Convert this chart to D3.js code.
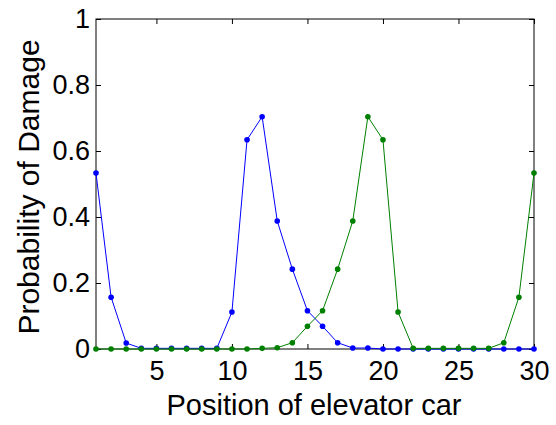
<!DOCTYPE html>
<html>
<head>
<meta charset="utf-8">
<script src="https://cdn.jsdelivr.net/npm/d3@7"></script>
<style>
  body { margin: 0; background: #fff; }
  text { font-family: "Liberation Sans", Arial, sans-serif; }
</style>
</head>
<body>
<div id="wrapper"></div>
<script>
const positions = d3.range(1, 31)
const blueValues = [0.533, 0.157, 0.018, 0.002, 0.002, 0.002, 0.002, 0.002, 0.002, 0.112,
                    0.634, 0.704, 0.388, 0.242, 0.116, 0.069, 0.019, 0.003, 0.003, 0.0,
                    0.0, 0.0, 0.0, 0.0, 0.0, 0.0, 0.0, 0.0, 0.0, 0.0]
const greenValues = [0.0, 0.0, 0.0, 0.0, 0.0, 0.0, 0.0, 0.0, 0.0, 0.0,
                     0.0, 0.002, 0.004, 0.019, 0.069, 0.116, 0.242, 0.388, 0.704, 0.634,
                     0.112, 0.002, 0.002, 0.002, 0.002, 0.002, 0.002, 0.019, 0.157, 0.533]
const xTicks = [5, 10, 15, 20, 25, 30]
const yTicks = [0, 0.2, 0.4, 0.6, 0.8, 1]

function drawChart(){
  let dimensions = {
    width: 556,
    height: 425,
    margin: { top: 19, right: 22, bottom: 76, left: 96 },
  }
  dimensions.boundedWidth = dimensions.width - dimensions.margin.left - dimensions.margin.right
  dimensions.boundedHeight = dimensions.height - dimensions.margin.top - dimensions.margin.bottom

  const wrapper = d3.select("#wrapper").append("svg")
      .attr("width", dimensions.width)
      .attr("height", dimensions.height)

  const bounds = wrapper.append("g")
      .attr("transform", `translate(${dimensions.margin.left},${dimensions.margin.top})`)

  const xScale = d3.scaleLinear().domain([1, 30]).range([0, dimensions.boundedWidth])
  const yScale = d3.scaleLinear().domain([0, 1]).range([dimensions.boundedHeight, 0])

  // box + inward ticks, matlab style
  const axisStyle = g => {
    g.select(".domain").remove()
    g.selectAll(".tick line").attr("stroke", "#000")
    g.selectAll(".tick text").attr("fill", "#000").style("font-size", "27px")
  }

  bounds.append("g")
      .attr("transform", `translate(0,${dimensions.boundedHeight})`)
      .call(d3.axisBottom(xScale).tickValues(xTicks).tickSizeInner(-5).tickPadding(12).tickFormat(d3.format("d")))
      .call(axisStyle)
  bounds.append("g")
      .call(d3.axisTop(xScale).tickValues(xTicks).tickSizeInner(-5).tickFormat(""))
      .call(axisStyle)
  bounds.append("g")
      .call(d3.axisLeft(yScale).tickValues(yTicks).tickSizeInner(-5).tickPadding(6).tickFormat(d => d3.format("")(+d.toFixed(1))))
      .call(axisStyle)
  bounds.append("g")
      .attr("transform", `translate(${dimensions.boundedWidth},0)`)
      .call(d3.axisRight(yScale).tickValues(yTicks).tickSizeInner(-5).tickFormat(""))
      .call(axisStyle)

  bounds.append("rect")
      .attr("width", dimensions.boundedWidth)
      .attr("height", dimensions.boundedHeight)
      .attr("fill", "none")
      .attr("stroke", "#000")
      .attr("stroke-width", 1)

  const series = [
    { values: blueValues, color: "#0000ff" },
    { values: greenValues, color: "#008000" },
  ]
  const line = d3.line()
      .x((d, i) => xScale(positions[i]))
      .y(d => yScale(d))

  series.forEach(s => {
    bounds.append("path")
        .datum(s.values)
        .attr("fill", "none")
        .attr("stroke", s.color)
        .attr("stroke-width", 1)
        .attr("d", line)
    bounds.append("g").selectAll("circle")
      .data(s.values)
      .enter().append("circle")
        .attr("cx", (d, i) => xScale(positions[i]))
        .attr("cy", d => yScale(d))
        .attr("r", 2.8)
        .attr("fill", s.color)
  })

  wrapper.append("text")
      .attr("x", dimensions.margin.left + dimensions.boundedWidth / 2 - 1)
      .attr("y", 415)
      .attr("text-anchor", "middle")
      .style("font-size", "29px")
      .text("Position of elevator car")

  wrapper.append("text")
      .attr("transform", `translate(39,${dimensions.margin.top + dimensions.boundedHeight / 2 + 3}) rotate(-90)`)
      .attr("text-anchor", "middle")
      .style("font-size", "30px")
      .text("Probability of Damage")
}

drawChart()
</script>
</body>
</html>
